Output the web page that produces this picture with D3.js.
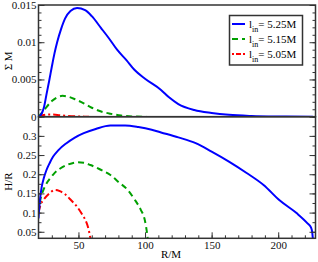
<!DOCTYPE html>
<html><head><meta charset="utf-8">
<script src="https://cdn.jsdelivr.net/npm/d3@7"></script>
<style>body{margin:0;background:#fff}svg{display:block}</style>
</head><body><svg id="c" width="318" height="262"></svg>
<script>
// ---- data ----
const sigmaBlueR = [20,22,24,26,28,30,32,34,37,40,44,49,55,60,67,73,79,86,92,100,112,118,125,137,150,163,180,200,226];
const sigmaBlueV = [0,0.0003,0.0012,0.003,0.0048,0.0067,0.0085,0.0100,0.0118,0.0132,0.0142,0.0146,0.0143,0.0135,0.0119,0.0105,0.0090,0.0076,0.0063,0.0051,0.0036,0.0026,0.0017,0.0009,0.0005,0.00025,0.0001,0.00003,0];
const sigmaGreenR = [20,23,26,30,34,38,42,48,54,60,67,74,82,90,101];
const sigmaGreenV = [0,0.0006,0.0013,0.0021,0.0026,0.0028,0.0027,0.0023,0.0018,0.0012,0.0007,0.0004,0.00015,0.00004,0];
const sigmaRedR = [20,23,27,31,36,42,50,58];
const sigmaRedV = [0,0.0002,0.0003,0.0003,0.0002,0.0001,0.00003,0];

const hBlueR = [20,21,22.4,24,26,28.5,31,35,41,47,54,63,74,85,95,105,112,125,138,150,163,176,189,201,214,222,224.5,225.5,226];
const hBlueV = [0.085,0.13,0.167,0.19,0.211,0.23,0.246,0.263,0.281,0.295,0.307,0.318,0.327,0.327,0.323,0.316,0.309,0.296,0.281,0.259,0.233,0.204,0.172,0.132,0.098,0.072,0.062,0.05,0.033];
const hGreenR = [20,21.5,23.7,26,28.7,32,36.3,42,49,54,59,66,74,80,87,92,97,99.5,100.8,102];
const hGreenV = [0.1,0.135,0.159,0.176,0.189,0.203,0.215,0.225,0.231,0.23,0.224,0.213,0.198,0.18,0.159,0.135,0.106,0.085,0.063,0.033];
const hRedR = [20,21.5,23.7,27.5,32.5,36,40,44,49,53,55.3,57.5,59];
const hRedV = [0.1,0.12,0.133,0.148,0.159,0.156,0.148,0.134,0.115,0.094,0.08,0.058,0.033];

const legendLabels = ["5.25M","5.15M","5.05M"];
const xTicks = [50,100,150,200];
const sigmaTicks = [0,0.005,0.01,0.015];
const hTicks = [0.05,0.1,0.15,0.2,0.25,0.3];

// ---- layout ----
const FONT = '"Liberation Serif"';
const svg = d3.select("#c");
const L = 38.5, R = 315.5, T1 = 5, B1 = 116.7, T2 = 116.7, B2 = 238.3;
const x = d3.scaleLinear().domain([20, 228]).range([L, R]);
const y1 = d3.scaleLinear().domain([0, 0.015]).range([B1, T1]);
const y2 = d3.scaleLinear().domain([0.033, 0.35]).range([B2, T2]);

const colors = ["#0000ff", "#00a000", "#ff0000"];
const dashes = [null, "6,4", "7,3,2,3"];

function clip(id, y0, y1_) {
  svg.append("clipPath").attr("id", id).append("rect")
    .attr("x", L).attr("y", y0).attr("width", R - L).attr("height", y1_ - y0);
}
clip("c1", T1, B1); clip("c2", T2, B2);

function drawLine(rs, vs, ys, i, cp) {
  const data = rs.map((r, k) => [r, vs[k]]);
  svg.append("path").datum(data)
    .attr("clip-path", `url(#${cp})`)
    .attr("fill", "none").attr("stroke", colors[i]).attr("stroke-width", 2)
    .attr("stroke-dasharray", dashes[i])
    .attr("d", d3.line().x(d => x(d[0])).y(d => ys(d[1])).curve(d3.curveMonotoneX));
}
drawLine(sigmaRedR, sigmaRedV, y1, 2, "c1");
drawLine(sigmaGreenR, sigmaGreenV, y1, 1, "c1");
drawLine(sigmaBlueR, sigmaBlueV, y1, 0, "c1");
drawLine(hRedR, hRedV, y2, 2, "c2");
drawLine(hGreenR, hGreenV, y2, 1, "c2");
drawLine(hBlueR, hBlueV, y2, 0, "c2");

// axes (ticks inward)
const axCol = "#333";
function styleAxis(g) {
  g.attr("font-family", null);
  g.select(".domain").remove();
  g.selectAll("line").attr("stroke", axCol).attr("stroke-width", 1);
  g.selectAll("text").attr("font-size", 11).style("font-family", FONT).attr("fill", "#111");
}
function yAxes(scale, minorVals, majorVals) {
  [[L, d3.axisRight], [R, d3.axisLeft]].forEach(([px, ax]) => {
    svg.append("g").attr("transform", `translate(${px},0)`)
      .call(ax(scale).tickValues(minorVals).tickSize(3).tickFormat("")).call(styleAxis);
    svg.append("g").attr("transform", `translate(${px},0)`)
      .call(ax(scale).tickValues(majorVals).tickSize(6).tickFormat("")).call(styleAxis);
  });
  svg.append("g").attr("transform", `translate(${L},0)`)
    .call(d3.axisLeft(scale).tickValues(majorVals).tickSize(0).tickPadding(2).tickFormat(d3.format("")))
    .call(styleAxis);
}
yAxes(y1, d3.range(0, 0.0151, 0.001), sigmaTicks);
yAxes(y2, d3.range(0.05, 0.351, 0.025), hTicks);

// bottom x
svg.append("g").attr("transform", `translate(0,${B2})`)
  .call(d3.axisTop(x).tickValues(d3.range(30, 228, 10)).tickSize(3).tickFormat(""))
  .call(styleAxis);
svg.append("g").attr("transform", `translate(0,${B2})`)
  .call(d3.axisTop(x).tickValues(xTicks).tickSize(6).tickFormat(""))
  .call(styleAxis);
svg.append("g").attr("transform", `translate(0,${B2})`)
  .call(d3.axisBottom(x).tickValues(xTicks).tickSize(0).tickPadding(3).tickFormat(d3.format("")))
  .call(styleAxis);

// frames
svg.append("rect").attr("x", L).attr("y", T1).attr("width", R - L).attr("height", B1 - T1)
  .attr("fill", "none").attr("stroke", axCol).attr("stroke-width", 1.5);
svg.append("rect").attr("x", L).attr("y", T2).attr("width", R - L).attr("height", B2 - T2)
  .attr("fill", "none").attr("stroke", axCol).attr("stroke-width", 1.5);

// axis labels
svg.append("text").attr("transform", `translate(12,${(T1 + B1) / 2}) rotate(-90)`)
  .attr("text-anchor", "middle").attr("font-size", 11).style("font-family", FONT).text("Σ M");
svg.append("text").attr("transform", `translate(12,${(T2 + B2) / 2 + 4}) rotate(-90)`)
  .attr("text-anchor", "middle").attr("font-size", 11).style("font-family", FONT).text("H/R");
svg.append("text").attr("x", 171).attr("y", 258)
  .attr("text-anchor", "middle").attr("font-size", 11).style("font-family", FONT).text("R/M");

// legend
const lg = svg.append("g");
lg.append("rect").attr("x", 229.5).attr("y", 15.5).attr("width", 73).attr("height", 49.5)
  .attr("fill", "#fff").attr("stroke", axCol).attr("stroke-width", 1.5);
legendLabels.forEach((lab, i) => {
  const yy = 24 + i * 15;
  lg.append("line").attr("x1", 232).attr("x2", 245).attr("y1", yy).attr("y2", yy)
    .attr("stroke", colors[i]).attr("stroke-width", 2).attr("stroke-dasharray", dashes[i] ? (i === 1 ? "6,4" : "2,2,5,2") : null);
  const t = lg.append("text").attr("x", 249).attr("y", yy + 4).attr("font-size", 11).style("font-family", FONT);
  t.append("tspan").text("l");
  t.append("tspan").attr("font-size", 8).attr("dy", 4).text("in");
  t.append("tspan").attr("dy", -4).text("= " + lab);
});
</script></body></html>
